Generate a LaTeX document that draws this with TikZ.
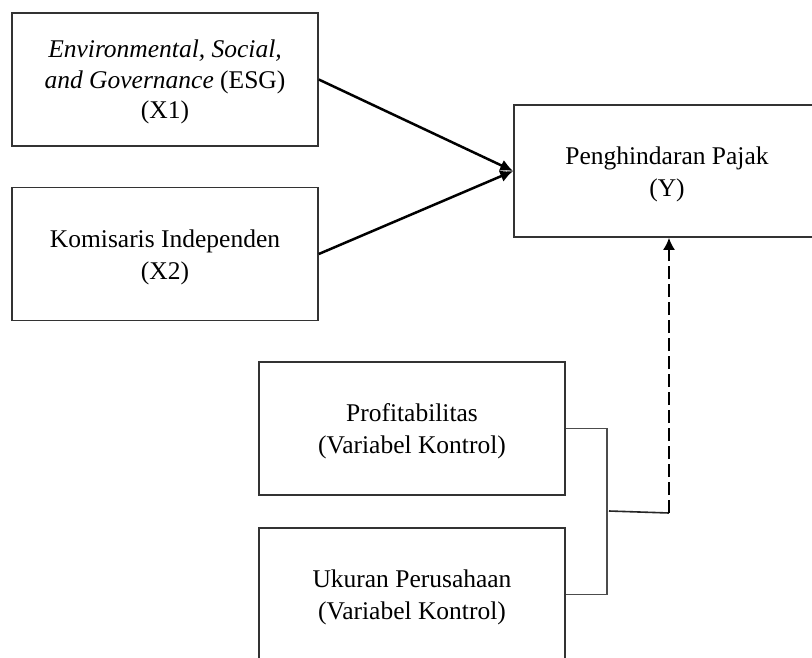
\documentclass[tikz,border=0pt]{standalone}
\usepackage{fontspec}
\setmainfont{Liberation Serif}
\usetikzlibrary{arrows.meta}
\begin{document}
\begin{tikzpicture}[x=1pt,y=-1pt,
  box/.style={draw=black!80,line width=1.6pt,minimum width=306pt,minimum height=133pt,inner sep=0pt},
  lbl/.style={align=center,inner sep=0pt,font=\fontsize{25.5}{32}\selectfont},
  conn/.style={draw=black!70,line width=1.6pt},
  arr/.style={line width=2.5pt,-{Latex[length=13pt,width=12pt]}},
  darr/.style={line width=2pt,dash pattern=on 13pt off 5pt,-{Latex[length=12pt,width=12pt]}}]
\useasboundingbox (0,0) rectangle (812,658);
\clip (0,0) rectangle (812,658);
\fill[white] (0,0) rectangle (812,658);
\node[box] (x1) at (165,79.5) {};
\node[box] (x2) at (165,254) {};
\node[box,minimum height=132pt] (y) at (667,171) {};
\node[box] (p) at (412,428.5) {};
\node[box] (u) at (412,594.5) {};
\node[lbl] (tx1) at ([yshift=-2pt]x1.center) {\textit{Environmental, Social,}\\[-1pt] \textit{and Governance} (ESG)\\[-2pt] (X1)};
\node[lbl] (tx2) at ([yshift=-3pt]x2.center) {Komisaris Independen\\ (X2)};
\node[lbl] (ty) at ([yshift=-3pt]y.center) {Penghindaran Pajak\\ (Y)};
\node[lbl] (tp) at ([yshift=-3pt]p.center) {Profitabilitas\\ (Variabel Kontrol)};
\node[lbl] (tu) at ([yshift=-3pt]u.center) {Ukuran Perusahaan\\ (Variabel Kontrol)};
\draw[arr] (x1.east) -- (y.west);
\draw[arr] (x2.east) -- (y.west);
\draw[conn] (p.east) -- ++(41,0) |- (u.east);
\coordinate (j) at (609,511);
\coordinate (k) at (669,513);
\draw[conn,draw=black!85] (j) -- (k);
\draw[darr] (k) -- (k |- y.south);
\end{tikzpicture}
\end{document}
